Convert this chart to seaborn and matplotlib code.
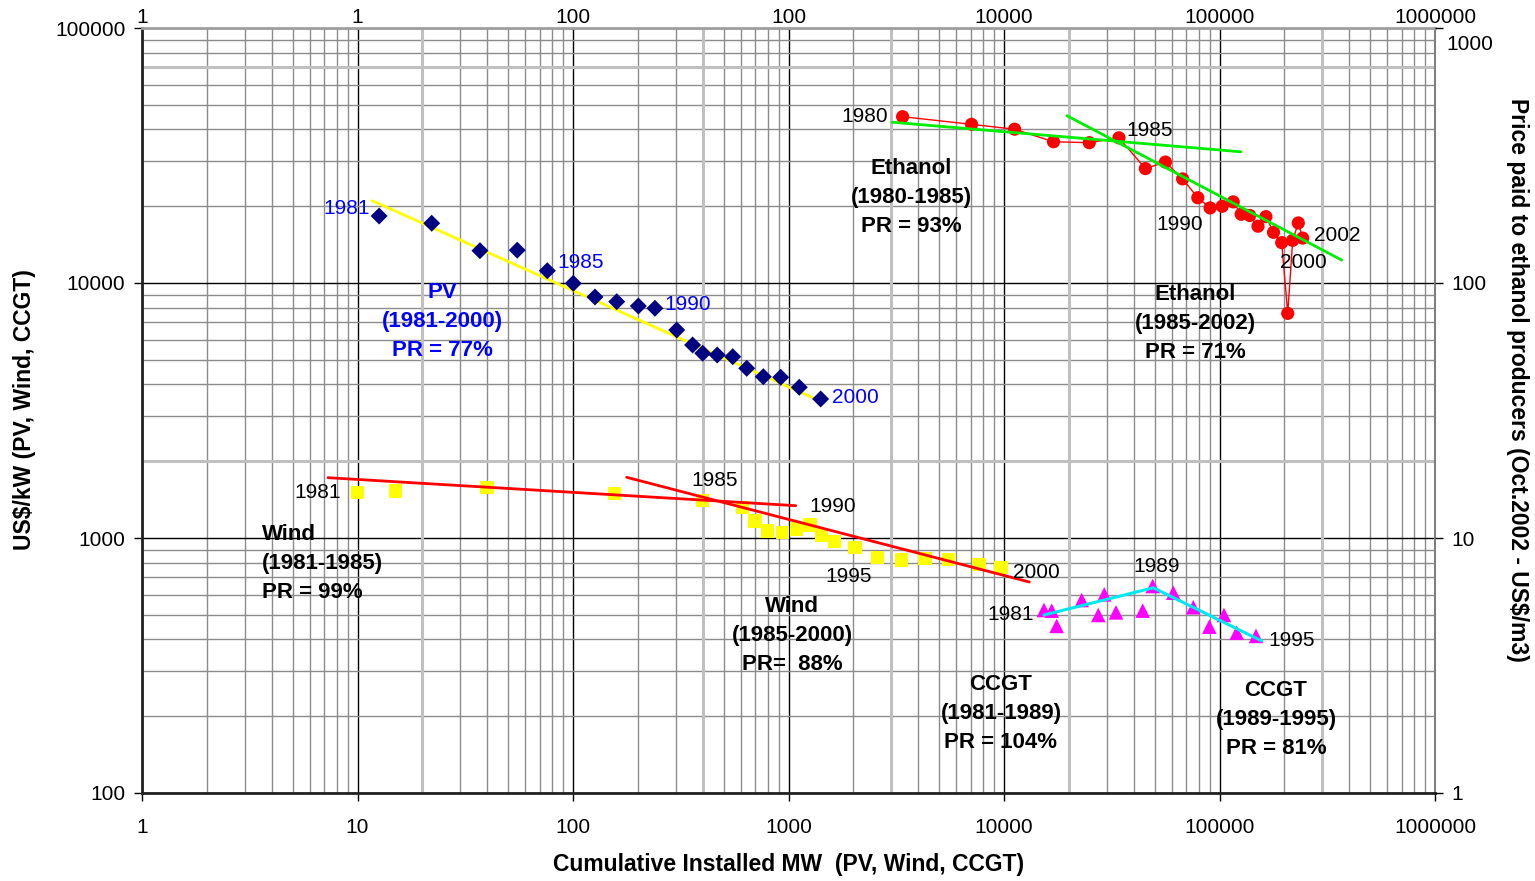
import numpy as np
import matplotlib
matplotlib.use("Agg")
import matplotlib.pyplot as plt
import seaborn as sns
from matplotlib.ticker import FixedLocator, NullFormatter, NullLocator

# PV (1981-2000)
pv_mw = [12.6, 22.1, 37.0, 55.1, 76.0, 100.3, 126.5, 159.5, 201, 240,
         303, 359, 400, 467, 551, 640, 764, 920, 1122, 1410]
pv_cost = [18310, 17150, 13390, 13450, 11170, 9970, 8813, 8447, 8123, 7960,
           6542, 5714, 5302, 5220, 5140, 4629, 4290, 4268, 3900, 3509]
pv_fit_x = [11.7, 1426]
pv_fit_y = [21020, 3423]

# Wind (1981-2000)
wind_mw = [10.02, 15.04, 39.9, 155.5, 398, 610, 699, 801, 940, 1092,
           1258, 1426, 1632, 2035, 2594, 3353, 4298, 5513, 7656, 9685]
wind_cost = [1505, 1529, 1581, 1492, 1401, 1315, 1166, 1065, 1049, 1085,
             1125, 1027, 967, 916, 840, 820, 829, 825, 789, 765]
wind_fit1_x = [7.3, 1080]
wind_fit1_y = [1724, 1339]
wind_fit2_x = [177.5, 13110]
wind_fit2_y = [1730, 672]

# CCGT (1981-1995)
ccgt_mw = [15330, 16650, 17560, 22940, 27390, 29200, 33090, 44010, 48980,
           61050, 75560, 89700, 104900, 120200, 147700]
ccgt_cost = [522, 519, 452, 571, 499, 601, 511, 519, 648,
             610, 535, 449, 499, 425, 413]
ccgt_fit_x = [15330, 49300, 157000]
ccgt_fit_y = [499, 638, 394.8]

# Ethanol (1980-2002), top / right axes
eth_prod = [3384, 7068, 11200, 16970, 24880, 34150, 45300, 56100, 67430, 79300,
            90450, 102900, 115800, 126100, 138200, 150900, 164200, 178100,
            194400, 207300, 218600, 232100, 243300]
eth_price = [449, 419, 401, 358, 355, 371, 281, 298, 256, 216,
             197, 200, 208, 186, 184, 167, 182, 158, 144, 76, 147, 172, 150]
eth_fit1_x = [3031, 125600]
eth_fit1_y = [427, 327]
eth_fit2_x = [19580, 369100]
eth_fit2_y = [453, 123]

bottom_ticks = [1, 10, 100, 1000, 10000, 100000, 1000000]
bottom_labels = ["1", "10", "100", "1000", "10000", "100000", "1000000"]
top_labels = ["1", "1", "100", "100", "10000", "100000", "1000000"]
left_ticks = [100, 1000, 10000, 100000]
right_ticks = [1, 10, 100, 1000]

sns.set_style("white")
plt.rcParams["font.family"] = ["Liberation Sans", "DejaVu Sans"]
plt.rcParams.update({"text.color": "black", "axes.labelcolor": "black",
                     "xtick.color": "black", "ytick.color": "black"})

W, H = 1535, 881
fig = plt.figure(figsize=(W / 100, H / 100), dpi=100)
ax = fig.add_axes([142 / W, (H - 793) / H, 1293 / W, 765 / H])
ax.set_xscale("log")
ax.set_yscale("log")
ax.set_xlim(1, 1e6)
ax.set_ylim(100, 1e5)

# grid
ax.xaxis.set_minor_locator(FixedLocator([m * 10 ** d for d in range(6) for m in range(2, 10)]))
ax.yaxis.set_minor_locator(FixedLocator([m * 10 ** d for d in range(2, 5) for m in range(2, 10)]))
ax.xaxis.set_minor_formatter(NullFormatter())
ax.yaxis.set_minor_formatter(NullFormatter())
ax.grid(which="minor", color="#8c8c8c", lw=1.0)
ax.grid(which="major", color="#000000", lw=1.0)
for xv in [20, 400, 3000, 20000, 300000]:
    ax.axvline(xv, color="#c0c0c0", lw=2.2, zorder=0.6)
for yv in [70000, 2000]:
    ax.axhline(yv, color="#c0c0c0", lw=2.2, zorder=0.6)
ax.set_axisbelow(True)

ax.set_xticks(bottom_ticks)
ax.set_xticklabels(bottom_labels)
ax.set_yticks(left_ticks)
ax.set_yticklabels([str(v) for v in left_ticks])
ax.tick_params(axis="x", which="major", direction="out", length=6, width=1,
               pad=12, labelsize=15, bottom=True)
ax.tick_params(axis="y", which="major", direction="out", length=6, width=1,
               pad=6, labelsize=15, left=True)
ax.tick_params(which="minor", length=0)

for side in ["left", "bottom"]:
    ax.spines[side].set_color("#222222")
    ax.spines[side].set_linewidth(2)
ax.spines["top"].set_color("#a0a0a0")
ax.spines["top"].set_linewidth(2)
ax.spines["right"].set_color("#808080")
ax.spines["right"].set_linewidth(1.5)

# fit lines
sns.lineplot(x=pv_fit_x, y=pv_fit_y, ax=ax, color="#ffff00", lw=2, sort=False, estimator=None, zorder=3)
sns.lineplot(x=wind_fit1_x, y=wind_fit1_y, ax=ax, color="#ff0000", lw=2, sort=False, estimator=None, zorder=3)
sns.lineplot(x=wind_fit2_x, y=wind_fit2_y, ax=ax, color="#ff0000", lw=2, sort=False, estimator=None, zorder=3)
sns.lineplot(x=ccgt_fit_x, y=ccgt_fit_y, ax=ax, color="#00e8f0", lw=2.2, sort=False, estimator=None, zorder=3)

# points
sns.scatterplot(x=pv_mw, y=pv_cost, ax=ax, marker="D", color="#000080", s=75,
                edgecolor="none", zorder=4)
sns.scatterplot(x=wind_mw, y=wind_cost, ax=ax, marker="s", color="#ffff00", s=90,
                edgecolor="none", zorder=2.5)
sns.scatterplot(x=ccgt_mw, y=ccgt_cost, ax=ax, marker="^", color="#ff00ff", s=110,
                edgecolor="none", zorder=2.5)

# ethanol on secondary axes
ax2 = ax.twinx()
ax2.set_yscale("log")
ax2.set_ylim(1, 1000)
ax2.yaxis.set_major_locator(FixedLocator(right_ticks))
ax2.yaxis.set_minor_locator(NullLocator())
ax2.set_yticklabels(["1", "10", "100", ""])
ax2.tick_params(axis="y", direction="out", length=6, width=1, pad=6, labelsize=15)
for s in ax2.spines.values():
    s.set_visible(False)
ax2.grid(False)
sns.lineplot(x=eth_prod, y=eth_price, ax=ax2, color="#ff0000", lw=1, sort=False,
             estimator=None, zorder=2)
sns.scatterplot(x=eth_prod, y=eth_price, ax=ax2, marker="o", color="#ff0000", s=90,
                edgecolor="none", zorder=3)
sns.lineplot(x=eth_fit1_x, y=eth_fit1_y, ax=ax2, color="#00ee00", lw=2, sort=False, estimator=None, zorder=4)
sns.lineplot(x=eth_fit2_x, y=eth_fit2_y, ax=ax2, color="#00ee00", lw=2, sort=False, estimator=None, zorder=4)
ax2.set_xlim(1, 1e6)

top = ax.secondary_xaxis("top")
top.set_xticks(bottom_ticks)
top.set_xticklabels(top_labels)
top.tick_params(length=0, pad=1, labelsize=15)
top.xaxis.set_minor_locator(NullLocator())
top.spines["top"].set_visible(False)


def ftxt(x, y, s, **kw):
    kw.setdefault("fontsize", 15)
    kw.setdefault("ha", "center")
    kw.setdefault("va", "center")
    kw.setdefault("color", "black")
    fig.text(x / W, 1 - y / H, s, **kw)


ftxt(1470, 45, "1000")

# year labels
for x, y, s in [(347, 208, "1981"), (581, 262, "1985"), (688, 304, "1990"), (855, 398, "2000")]:
    ftxt(x, y, s, color="#0000ff")
for x, y, s in [(865, 117, "1980"), (1150, 130, "1985"), (1180, 224, "1990"),
                (1337, 235, "2002"), (1303, 262, "2000"), (318, 492, "1981"),
                (715, 480, "1985"), (833, 506, "1990"), (849, 577, "1995"),
                (1036, 572, "2000"), (1011, 614, "1981"), (1157, 567, "1989"),
                (1292, 640, "1995")]:
    ftxt(x, y, s)

# segment notes
bold = dict(fontsize=16, fontweight="bold", linespacing=1.5)
ftxt(442, 322, "PV\n(1981-2000)\nPR = 77%", color="#0000ff", multialignment="center", **bold)
ftxt(911, 198, "Ethanol\n(1980-1985)\nPR = 93%", multialignment="center", **bold)
ftxt(1195, 323, "Ethanol\n(1985-2002)\nPR = 71%", multialignment="center", **bold)
ftxt(262, 564, "Wind\n(1981-1985)\nPR = 99%", ha="left", multialignment="left", **bold)
ftxt(792, 635, "Wind\n(1985-2000)\nPR=  88%", multialignment="center", **bold)
ftxt(1001, 713, "CCGT\n(1981-1989)\nPR = 104%", multialignment="center", **bold)
ftxt(1276, 720, "CCGT\n(1989-1995)\nPR = 81%", multialignment="center", **bold)

# axis titles
ftxt(789, 865, "Cumulative Installed MW  (PV, Wind, CCGT)", fontweight="bold", fontsize=16.5)
ftxt(25, 410, "US$/kW (PV, Wind, CCGT)", fontweight="bold", fontsize=16.5, rotation=90)
ftxt(1517, 380, "Price paid to ethanol producers (Oct.2002 - US$/m3)", fontweight="bold",
     fontsize=16.5, rotation=-90)

fig.savefig("out.png", dpi=100)
